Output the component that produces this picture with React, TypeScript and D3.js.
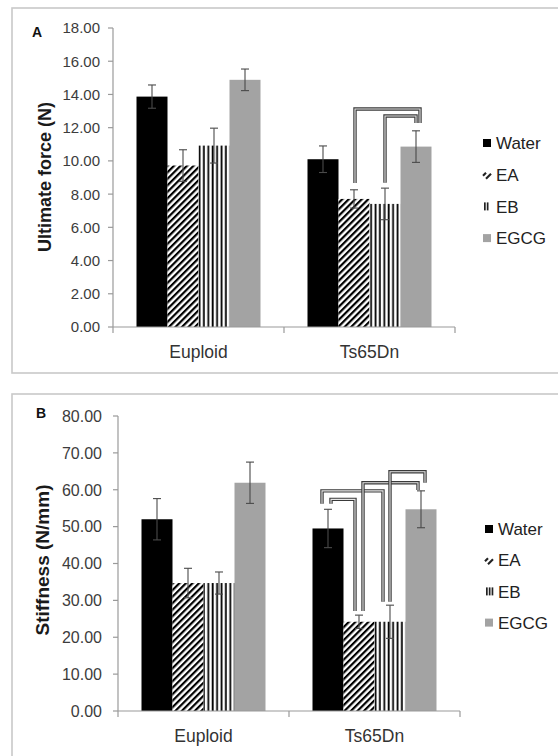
import React from "react";
import * as d3 from "d3";

const groups = ["Euploid", "Ts65Dn"];
const series = ["Water", "EA", "EB", "EGCG"];

// Panel A: Ultimate force (N)
const forceEuploid = [13.87, 9.72, 10.92, 14.88];
const forceTs65Dn = [10.1, 7.71, 7.41, 10.86];
const forceErrEuploid = [0.7, 0.95, 1.05, 0.65];
const forceErrTs65Dn = [0.8, 0.55, 0.95, 0.95];
const forceTicks = [0, 2, 4, 6, 8, 10, 12, 14, 16, 18];

// Panel B: Stiffness (N/mm)
const stiffEuploid = [52.0, 34.7, 34.7, 61.9];
const stiffTs65Dn = [49.5, 24.2, 24.2, 54.7];
const stiffErrEuploid = [5.6, 4.0, 3.0, 5.6];
const stiffErrTs65Dn = [5.2, 1.8, 4.5, 5.0];
const stiffTicks = [0, 10, 20, 30, 40, 50, 60, 70, 80];

// significance brackets (Ts65Dn group): [fromSeries, toSeries, topValue, fromEndValue, toEndValue]
const forceBrackets = [
  [1, 3, 13.12, 8.67, 12.28],
  [2, 3, 12.7, 8.69, 12.28],
];
const stiffBrackets = [
  [0, 2, 59.7, 56.2, 29.6],
  [0, 1, 57.4, 56.2, 27.1],
  [1, 3, 61.9, 27.1, 59.9],
  [2, 3, 64.9, 29.6, 61.9],
];

const FONT = "'Liberation Sans', Arial, Helvetica, sans-serif";
const fills = ["#000000", "url(#hatchEA)", "url(#hatchEB)", "#a3a3a3"];

type PanelCfg = {
  frame: [number, number, number, number];
  xRange: [number, number];
  yRange: [number, number];
  domainMax: number;
  ticks: number[];
  values: number[][];
  errs: number[][];
  brackets: number[][];
  nudges: number[][];
  label: string;
  labelPos: [number, number];
  labelSize: number;
  title: string;
  titlePos: [number, number];
  titleSize: number;
  tickSize: number;
  tickLabelGap: number;
  catBaseline: number;
  catSize: number;
  legendX: number;
  legendY: number;
  legendStep: number;
  legendSize: number;
  ebLines: number;
};

function Panel({ c }: { c: PanelCfg }) {
  const x0 = d3.scaleBand<string>().domain(groups).range(c.xRange).paddingInner(0).paddingOuter(0);
  const x1 = d3
    .scaleBand<string>()
    .domain(series)
    .range([0, x0.bandwidth()])
    .paddingInner(0)
    .paddingOuter(0.758);
  const y = d3.scaleLinear().domain([0, c.domainMax]).range(c.yRange);
  const fmt = d3.format(".2f");
  const axisColor = "#9a9a9a";
  const [fx, fy, fw, fh] = c.frame;
  const bw = x1.bandwidth();
  const cx = (g: string, s: number) => (x0(g) as number) + (x1(series[s]) as number) + bw / 2;

  return (
    <g>
      <rect x={fx} y={fy} width={fw} height={fh} fill="#fff" stroke="#c9c9c9" strokeWidth={1.6} />
      <text x={c.labelPos[0]} y={c.labelPos[1]} fontFamily={FONT} fontWeight="bold" fontSize={c.labelSize} fill="#111">
        {c.label}
      </text>
      <text
        transform={`translate(${c.titlePos[0]},${c.titlePos[1]}) rotate(-90)`}
        textAnchor="middle"
        fontFamily={FONT}
        fontWeight="bold"
        fontSize={c.titleSize}
        fill="#1a1a1a"
      >
        {c.title}
      </text>
      {/* y axis */}
      <line x1={c.xRange[0]} x2={c.xRange[0]} y1={y(0)} y2={y(c.domainMax)} stroke={axisColor} strokeWidth={1.2} />
      {c.ticks.map((t) => (
        <g key={t}>
          <line x1={c.xRange[0] - 5} x2={c.xRange[0]} y1={y(t)} y2={y(t)} stroke={axisColor} strokeWidth={1.2} />
          <text
            x={c.xRange[0] - c.tickLabelGap}
            y={y(t)}
            dy="0.36em"
            textAnchor="end"
            fontFamily={FONT}
            fontSize={c.tickSize}
            fill="#3c3c3c"
          >
            {fmt(t)}
          </text>
        </g>
      ))}
      {/* bars */}
      {groups.map((g, gi) =>
        series.map((s, si) => {
          const v = c.values[gi][si];
          return (
            <rect
              key={g + s}
              x={(x0(g) as number) + (x1(s) as number)}
              y={y(v)}
              width={bw}
              height={y(0) - y(v)}
              fill={fills[si]}
            />
          );
        })
      )}
      {/* error bars */}
      {groups.map((g, gi) =>
        series.map((s, si) => {
          const v = c.values[gi][si];
          const e = c.errs[gi][si];
          const x = cx(g, si);
          return (
            <g key={"e" + g + s} stroke="#4a4a4a" strokeWidth={1.1}>
              <line x1={x} x2={x} y1={y(v - e)} y2={y(v + e)} />
              <line x1={x - 4} x2={x + 4} y1={y(v + e)} y2={y(v + e)} />
              <line x1={x - 4} x2={x + 4} y1={y(v - e)} y2={y(v - e)} />
            </g>
          );
        })
      )}
      {/* x axis */}
      <line x1={c.xRange[0]} x2={c.xRange[1]} y1={y(0)} y2={y(0)} stroke={axisColor} strokeWidth={1.2} />
      {[c.xRange[0], ...groups.map((g) => (x0(g) as number) + x0.bandwidth())].map((xx, i) => (
        <line key={i} x1={xx} x2={xx} y1={y(0)} y2={y(0) + 6} stroke={axisColor} strokeWidth={1.2} />
      ))}
      {groups.map((g) => (
        <text
          key={g}
          x={(x0(g) as number) + x0.bandwidth() / 2}
          y={c.catBaseline}
          textAnchor="middle"
          fontFamily={FONT}
          fontSize={c.catSize}
          fill="#333"
        >
          {g}
        </text>
      ))}
      {/* brackets */}
      {c.brackets.map((b, i) => {
        const [from, to, top, fromEnd, toEnd] = b;
        const xa = cx("Ts65Dn", from) + c.nudges[i][0];
        const xb = cx("Ts65Dn", to) + c.nudges[i][1];
        const d = `M${xa},${y(fromEnd)} V${y(top)} H${xb} V${y(toEnd)}`;
        return (
          <g key={"b" + i} fill="none">
            <path d={d} stroke="#3a3a3a" strokeWidth={3.4} />
            <path d={d} stroke="#e8e8e8" strokeWidth={1.1} />
          </g>
        );
      })}
      {/* legend */}
      {series.map((s, i) => {
        const ly = c.legendY + i * c.legendStep;
        const lx = c.legendX;
        let sw: React.ReactNode;
        if (i === 0) sw = <rect x={lx} y={ly - 4} width={8} height={8} fill="#000" />;
        else if (i === 3) sw = <rect x={lx} y={ly - 4} width={8} height={8} fill="#a3a3a3" />;
        else if (i === 1)
          sw = (
            <g stroke="#222" strokeWidth={2.2}>
              <line x1={lx} x2={lx + 3} y1={ly + 1} y2={ly - 2} />
              <line x1={lx + 3} x2={lx + 8} y1={ly + 4} y2={ly - 1} />
            </g>
          );
        else
          sw = (
            <g fill="#222">
              {d3.range(c.ebLines).map((k) => (
                <rect key={k} x={lx + 1 + k * 2.8} y={ly - 4} width={1.7} height={8} />
              ))}
            </g>
          );
        return (
          <g key={"l" + s}>
            {sw}
            <text x={lx + 13} y={ly} dy="0.36em" fontFamily={FONT} fontSize={c.legendSize} fill="#222">
              {s}
            </text>
          </g>
        );
      })}
    </g>
  );
}

const panelA: PanelCfg = {
  frame: [12, 8, 560, 365],
  xRange: [113, 455],
  yRange: [327, 28],
  domainMax: 18,
  ticks: forceTicks,
  values: [forceEuploid, forceTs65Dn],
  errs: [forceErrEuploid, forceErrTs65Dn],
  brackets: forceBrackets,
  nudges: [
    [1, 4],
    [0, 0],
  ],
  label: "A",
  labelPos: [32, 37],
  labelSize: 14,
  title: "Ultimate force (N)",
  titlePos: [51, 177],
  titleSize: 18,
  tickSize: 15,
  tickLabelGap: 13,
  catBaseline: 358,
  catSize: 17.5,
  legendX: 483,
  legendY: 143,
  legendStep: 31.7,
  legendSize: 17,
  ebLines: 2,
};

const panelB: PanelCfg = {
  frame: [12, 394, 560, 372],
  xRange: [118, 460],
  yRange: [711, 416],
  domainMax: 80,
  ticks: stiffTicks,
  values: [stiffEuploid, stiffTs65Dn],
  errs: [stiffErrEuploid, stiffErrTs65Dn],
  brackets: stiffBrackets,
  nudges: [
    [-6, -7],
    [3, -4],
    [4, -3],
    [0, 4],
  ],
  label: "B",
  labelPos: [36, 418],
  labelSize: 14,
  title: "Stiffness (N/mm)",
  titlePos: [49, 560],
  titleSize: 19,
  tickSize: 16,
  tickLabelGap: 16,
  catBaseline: 742,
  catSize: 17.5,
  legendX: 485,
  legendY: 529,
  legendStep: 31.2,
  legendSize: 17,
  ebLines: 3,
};

export default function App() {
  return (
    <div style={{ position: "absolute", left: 0, top: 0 }}>
      <svg width={558} height={756} style={{ display: "block", background: "#fff" }}>
        <defs>
          <pattern id="hatchEA" patternUnits="userSpaceOnUse" width={4.6} height={8} patternTransform="rotate(45)">
            <rect x={0} y={0} width={4.6} height={8} fill="#fff" />
            <rect x={0} y={0} width={2.2} height={8} fill="#000" />
          </pattern>
          <pattern id="hatchEB" patternUnits="userSpaceOnUse" width={4.4} height={8}>
            <rect x={0} y={0} width={4.4} height={8} fill="#fff" />
            <rect x={0.6} y={0} width={1.8} height={8} fill="#000" />
          </pattern>
        </defs>
        <rect x={0} y={0} width={558} height={756} fill="#ffffff" />
        <Panel c={panelA} />
        <Panel c={panelB} />
      </svg>
    </div>
  );
}
